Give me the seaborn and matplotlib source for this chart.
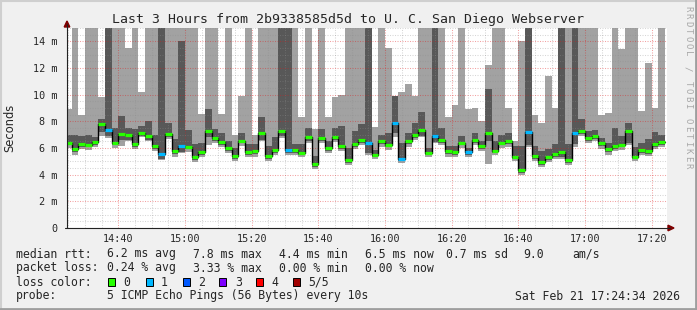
import numpy as np
import pandas as pd
import matplotlib
matplotlib.use("Agg")
import matplotlib.pyplot as plt
import seaborn as sns
from matplotlib.ticker import MultipleLocator, FixedLocator
from matplotlib.patches import Rectangle, Polygon
from matplotlib.lines import Line2D

# ---------------- data (ms) ----------------
# 2-minute intervals, start time in minutes after 14:00 (14:24 ... 17:22)
interval_start = np.arange(24, 204, 2)

median = [6.4, 5.9, 6.3, 6.25, 6.45, 7.8, 7.35, 6.4, 7.05, 6.98,
          6.3, 7.15, 6.93, 6.15, 5.58, 7.05, 5.78, 6.18, 6.1, 5.33,
          5.7, 7.28, 6.78, 6.45, 6.0, 5.43, 6.55, 5.68, 5.75, 7.15,
          5.43, 5.85, 7.28, 5.88, 5.88, 5.65, 6.8, 4.78, 6.78, 6.0,
          6.85, 6.18, 5.1, 6.3, 6.6, 6.4, 5.5, 6.53, 6.25, 7.9,
          5.2, 6.53, 7.0, 7.35, 5.65, 6.93, 6.6, 5.78, 5.7, 6.4,
          5.7, 6.6, 6.18, 7.15, 5.8, 6.4, 6.53, 5.35, 4.35, 7.2,
          5.4, 4.93, 5.3, 5.55, 5.7, 5.1, 7.15, 7.28, 6.78, 6.93,
          6.35, 5.93, 6.15, 6.25, 7.3, 5.35, 5.85, 5.78, 6.3, 6.45]

loss = [0, 0, 0, 0, 0, 0, 1, 0, 0, 0,
        0, 0, 0, 0, 1, 0, 0, 1, 0, 0,
        0, 0, 0, 0, 0, 0, 0, 0, 0, 0,
        0, 0, 0, 1, 0, 0, 0, 0, 0, 0,
        0, 0, 0, 0, 0, 1, 0, 0, 0, 1,
        1, 0, 0, 0, 0, 1, 0, 0, 0, 0,
        1, 0, 0, 0, 0, 0, 0, 0, 0, 1,
        0, 0, 0, 0, 0, 0, 1, 0, 0, 0,
        0, 0, 0, 0, 0, 0, 0, 0, 0, 0]

# outer smoke (lightest / highest ping), 16 = beyond chart top
outer_hi = [8.95, 16, 8.45, 16, 16, 9.8, 16, 16, 16, 13.5,
            16, 10.2, 16, 16, 16, 16, 16, 16, 16, 16,
            8.55, 16, 16, 8.55, 16, 7.0, 9.9, 16, 7.0, 16,
            16, 16, 16, 16, 16, 8.35, 16, 7.4, 16, 8.3,
            9.8, 9.95, 16, 16, 16, 16, 7.6, 16, 13.5, 9.9,
            10.2, 10.8, 9.9, 16, 16, 16, 16, 8.35, 9.2, 16,
            8.9, 9.0, 8.0, 12.2, 16, 16, 9.0, 6.5, 14.0, 16,
            8.5, 7.9, 11.4, 9.0, 16, 16, 16, 16, 16, 16,
            8.5, 8.6, 16, 13.45, 16, 16, 8.78, 12.4, 9.0, 16]

inner_hi = [7.0, 7.0, 6.9, 7.0, 6.8, 8.15, 16, 7.5, 8.4, 7.5,
            7.4, 7.65, 8.0, 7.0, 16, 7.9, 6.65, 14.0, 7.35, 6.28,
            6.35, 8.95, 7.4, 7.1, 6.5, 6.0, 7.15, 6.28, 6.28, 8.3,
            6.15, 6.8, 16, 16, 6.3, 6.28, 7.5, 5.4, 7.4, 6.5,
            7.5, 7.65, 6.0, 7.3, 7.8, 16, 5.85, 7.0, 7.15, 9.9,
            6.4, 7.1, 7.85, 8.7, 6.0, 16, 7.5, 6.15, 6.15, 6.9,
            6.0, 7.1, 6.5, 10.45, 6.5, 7.0, 7.1, 6.15, 6.15, 16,
            6.15, 5.8, 5.9, 6.28, 16, 6.28, 16, 8.15, 7.28, 7.35,
            6.78, 6.4, 7.5, 6.9, 7.9, 6.1, 6.4, 6.65, 7.2, 6.95]

inner_lo = [6.2, 5.7, 6.1, 6.05, 6.25, 7.2, 6.9, 6.2, 6.6, 6.6,
            6.1, 6.9, 6.6, 5.95, 5.2, 6.85, 5.55, 5.7, 5.9, 5.1,
            5.5, 6.8, 6.55, 6.25, 5.8, 5.2, 6.35, 5.45, 5.55, 6.6,
            5.2, 5.65, 6.9, 5.65, 5.65, 5.45, 6.55, 4.6, 6.55, 5.8,
            6.6, 5.95, 4.9, 6.1, 6.4, 5.6, 5.3, 6.3, 6.05, 7.1,
            5.0, 6.3, 6.75, 6.9, 5.45, 6.45, 6.4, 5.55, 5.5, 6.2,
            5.5, 6.4, 5.95, 6.5, 5.6, 6.2, 6.3, 5.15, 4.15, 6.2,
            5.2, 4.75, 5.1, 5.35, 5.3, 4.9, 6.3, 7.05, 6.55, 6.7,
            6.15, 5.7, 5.95, 6.05, 6.4, 5.15, 5.65, 5.55, 6.1, 6.25]

outer_lo = [6.0, 5.5, 5.9, 5.85, 6.05, 6.9, 6.75, 6.0, 6.15, 6.5,
            5.9, 6.8, 6.5, 5.75, 5.1, 6.7, 5.35, 5.6, 5.7, 4.95,
            5.3, 6.2, 6.35, 6.05, 5.6, 5.0, 6.15, 5.3, 5.35, 6.5,
            5.05, 5.45, 6.75, 5.45, 5.45, 5.3, 6.35, 4.45, 6.35, 5.6,
            6.45, 5.75, 4.75, 5.9, 6.2, 5.45, 5.15, 6.1, 5.85, 6.8,
            4.85, 6.1, 6.6, 6.8, 5.3, 6.35, 6.2, 5.35, 5.3, 6.0,
            5.35, 6.2, 5.75, 4.78, 5.45, 6.0, 6.1, 5.0, 4.0, 6.1,
            5.05, 4.6, 4.95, 5.2, 5.15, 4.75, 6.1, 6.9, 6.35, 6.5,
            5.95, 5.5, 5.75, 5.85, 6.25, 5.0, 5.5, 5.4, 5.9, 6.05]

x_ticks = [40, 60, 80, 100, 120, 140, 160, 180, 200]
x_labels = ["14:40", "15:00", "15:20", "15:40", "16:00", "16:20", "16:40", "17:00", "17:20"]
y_ticks = [0, 2, 4, 6, 8, 10, 12, 14]
y_labels = ["0", "2 m", "4 m", "6 m", "8 m", "10 m", "12 m", "14 m"]

loss_labels = ["0", "1", "2", "3", "4", "5/5"]
loss_colors = ["#26ff00", "#00b8ff", "#0059ff", "#7e00ff", "#ff0000", "#a00000"]

title = "Last 3 Hours from 2b9338585d5d to U. C. San Diego Webserver"
watermark = "RRDTOOL / TOBI OETIKER"

# ---------------- style ----------------
sns.set_theme(style="white")
plt.rcParams["font.family"] = ["DejaVu Sans Mono", "DejaVu Sans"]

W, H = 697, 310
fig = plt.figure(figsize=(W / 100, H / 100), dpi=100, facecolor="#f0f0f0")


def fx(x):
    return x / W


def fy(y):
    return 1 - y / H


PL, PR, PT, PB = 67, 667, 28, 228
ax = fig.add_axes([fx(PL), fy(PB), (PR - PL) / W, (PB - PT) / H])
ax.set_facecolor("white")

t = np.asarray(interval_start, dtype=float)
olo, ohi = np.array(outer_lo), np.array(outer_hi)
ilo, ihi = np.array(inner_lo), np.array(inner_hi)
med = np.array(median)

ax.bar(t, ohi - olo, bottom=olo, width=2, align="edge", color="#a2a2a2",
       linewidth=0, antialiased=False, zorder=1)
ax.bar(t, ihi - ilo, bottom=ilo, width=2, align="edge", color="#585858",
       linewidth=0, antialiased=False, zorder=1.1)

df = pd.DataFrame({"t": np.append(t, t[-1] + 2), "rtt": np.append(med, med[-1])})
sns.lineplot(data=df, x="t", y="rtt", drawstyle="steps-post", color="black",
             lw=1.0, ax=ax, zorder=3)
ax.hlines(med, t, t + 2, colors=[loss_colors[l] for l in loss], lw=2.3, zorder=4)

ax.set_xlim(24 + 34 / 60, 204 + 34 / 60)
ax.set_ylim(0, 15)
ax.xaxis.set_major_locator(FixedLocator(x_ticks))
ax.set_xticklabels(x_labels)
ax.yaxis.set_major_locator(FixedLocator(y_ticks))
ax.set_yticklabels(y_labels)
ax.xaxis.set_minor_locator(MultipleLocator(5))
ax.yaxis.set_minor_locator(MultipleLocator(0.5))
ax.set_axisbelow(False)
ax.grid(which="minor", color="#8c8c8c", alpha=0.35, ls=(0, (1, 1.4)), lw=0.75)
ax.grid(which="major", color="#e01818", alpha=0.4, ls=(0, (1, 1.4)), lw=0.75)
ax.set_xlabel("")
ax.set_ylabel("")
ax.tick_params(axis="both", which="major", labelsize=7.3, length=2, width=0.7,
               direction="inout", color="#444444")
ax.tick_params(axis="y", which="major", pad=6)
ax.tick_params(axis="x", which="major", pad=3)
ax.tick_params(axis="both", which="minor", length=0)
for s in ["top", "right", "left", "bottom"]:
    ax.spines[s].set_visible(False)

# axes lines with arrows (rrdtool style)
axcol = "#222222"
fig.add_artist(Line2D([fx(PL), fx(PL)], [fy(PB), fy(24)], color=axcol, lw=0.8))
fig.add_artist(Line2D([fx(PL - 2), fx(670)], [fy(PB), fy(PB)], color=axcol, lw=0.8))
fig.add_artist(Polygon([(fx(67), fy(21)), (fx(64.2), fy(27)), (fx(69.8), fy(27))],
                       closed=True, color="#7f0000", transform=fig.transFigure))
fig.add_artist(Polygon([(fx(674), fy(228)), (fx(668), fy(225.2)), (fx(668), fy(230.8))],
                       closed=True, color="#7f0000", transform=fig.transFigure))

# frame (3D shade)
fig.add_artist(Line2D([0, 1], [fy(0.5), fy(0.5)], color="#cfcfcf", lw=1.5))
fig.add_artist(Line2D([fx(0.5), fx(0.5)], [0, 1], color="#cfcfcf", lw=1.5))
fig.add_artist(Line2D([0, 1], [fy(309), fy(309)], color="#9e9e9e", lw=2))
fig.add_artist(Line2D([fx(696), fx(696)], [0, 1], color="#9e9e9e", lw=2))

# titles
fig.text(fx(348), fy(19), title, ha="center", va="center", fontsize=9.5,
         family="DejaVu Sans Mono")
fig.text(fx(10), fy(128), "Seconds", rotation=90, ha="center", va="center",
         fontsize=8.3, family="DejaVu Sans")
for i, ch in enumerate(watermark):
    fig.text(fx(688), fy(8.5 + 7.5 * i), ch, rotation=270, ha="center",
             va="center", fontsize=6.5, color="#a8a8a8", family="DejaVu Sans Mono")

# legend area
LF = 8.3
rows = {
    254: [(16, "median rtt:"), (107, "6.2 ms avg"), (193, "7.8 ms max"),
          (279, "4.4 ms min"), (365, "6.5 ms now"), (446, "0.7 ms sd"),
          (523, "9.0"), (572, "am/s")],
    268: [(16, "packet loss:"), (107, "0.24 % avg"), (193, "3.33 % max"),
          (279, "0.00 % min"), (365, "0.00 % now")],
    282: [(16, "loss color:")],
    296: [(16, "probe:"), (107, "5 ICMP Echo Pings (56 Bytes) every 10s")],
}
for y, items in rows.items():
    for x, s in items:
        fig.text(fx(x), fy(y), s, ha="left", va="center", fontsize=LF,
                 family="DejaVu Sans Mono")
fig.text(fx(680), fy(296), "Sat Feb 21 17:24:34 2026", ha="right", va="center",
         fontsize=LF, family="DejaVu Sans Mono")

box_x = [108, 146, 183, 219, 256, 293]
lab_x = [123, 161, 198, 235, 271, 308]
for bx, lx, c, s in zip(box_x, lab_x, loss_colors, loss_labels):
    fig.add_artist(Rectangle((fx(bx), fy(286)), 7 / W, 8 / H, facecolor=c,
                             edgecolor="black", lw=0.7, transform=fig.transFigure))
    fig.text(fx(lx), fy(282), s, ha="left", va="center", fontsize=LF,
             family="DejaVu Sans Mono")

fig.savefig("out.png", dpi=100, facecolor=fig.get_facecolor())
